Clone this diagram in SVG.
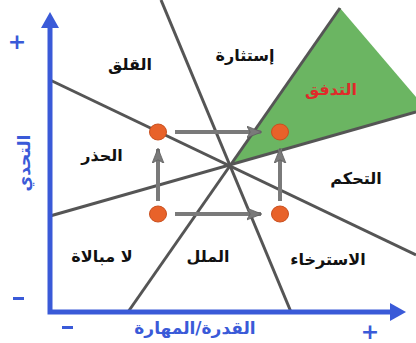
<svg xmlns="http://www.w3.org/2000/svg" width="416" height="343" viewBox="0 0 416 343">
<defs>
<style>
.ln{stroke:#555;stroke-width:3;fill:none}
.ax{stroke:#3a5ad8;stroke-width:5;fill:none}
.ar{stroke:#7a7a7a;stroke-width:4;fill:none}
.dot{fill:#e8622a;stroke:#c9501f;stroke-width:1}
.lb{font-family:"DejaVu Sans",sans-serif;font-size:16px;font-weight:bold;fill:#111;text-anchor:middle}
.bl{font-family:"DejaVu Sans",sans-serif;font-weight:bold;fill:#3a5ad8;text-anchor:middle}
</style>
<marker id="ah" markerWidth="5" markerHeight="4" refX="3.6" refY="1.5" orient="auto" markerUnits="strokeWidth">
<path d="M0,0 L3.8,1.5 L0,3 L0.9,1.5 Z" fill="#7a7a7a" stroke="#5e5e5e" stroke-width="0.2"/>
</marker>
</defs>
<polygon points="230,165 340,8 416,97 416,112" fill="#6bb562"/>
<g id="connectors">
<line class="ln" x1="50" y1="80" x2="416" y2="255"/>
<line class="ln" x1="50" y1="216" x2="416" y2="112"/>
<line class="ln" x1="161" y1="0" x2="291" y2="312"/>
<line class="ln" x1="128" y1="312" x2="340" y2="8"/>
<line class="ar" x1="175" y1="132" x2="261" y2="132" marker-end="url(#ah)"/>
<line class="ar" x1="175" y1="214" x2="261" y2="214" marker-end="url(#ah)"/>
<line class="ar" x1="158" y1="201" x2="158" y2="149" marker-end="url(#ah)"/>
<line class="ar" x1="280" y1="201" x2="280" y2="149" marker-end="url(#ah)"/>
</g>
<g id="axes">
<polyline class="ax" points="50,26 50,312 392,312"/>
<polygon points="50,12 41,28 59,28" fill="#3a5ad8"/>
<polygon points="406,312 390,303 390,321" fill="#3a5ad8"/>
</g>
<g id="dots">
<ellipse class="dot" cx="158" cy="132" rx="8.5" ry="8"/>
<ellipse class="dot" cx="280" cy="132" rx="8.5" ry="8"/>
<ellipse class="dot" cx="158" cy="214" rx="8.5" ry="8"/>
<ellipse class="dot" cx="280" cy="214" rx="8.5" ry="8"/>
</g>
<g id="labels">
<text class="lb" x="130" y="70">القلق</text>
<text class="lb" x="245" y="61">إستثارة</text>
<text class="lb" x="331" y="95" style="fill:#e02a2a">التدفق</text>
<text class="lb" x="102" y="161">الحذر</text>
<text class="lb" x="356" y="184">التحكم</text>
<text class="lb" x="102" y="262">لا مبالاة</text>
<text class="lb" x="208" y="262">الملل</text>
<text class="lb" x="328" y="265">الاسترخاء</text>
</g>
<g id="axis-labels">
<text class="bl" x="195" y="334" font-size="17">القدرة/المهارة</text>
<text class="bl" font-size="17" transform="translate(30,163) rotate(-90)">التحدي</text>
<text class="bl" x="17" y="49" font-size="22">+</text>
<text class="bl" x="370" y="339" font-size="22">+</text>
<rect x="13" y="297" width="11" height="3" fill="#3a5ad8"/>
<rect x="62" y="326" width="11" height="3" fill="#3a5ad8"/>
</g>
</svg>
